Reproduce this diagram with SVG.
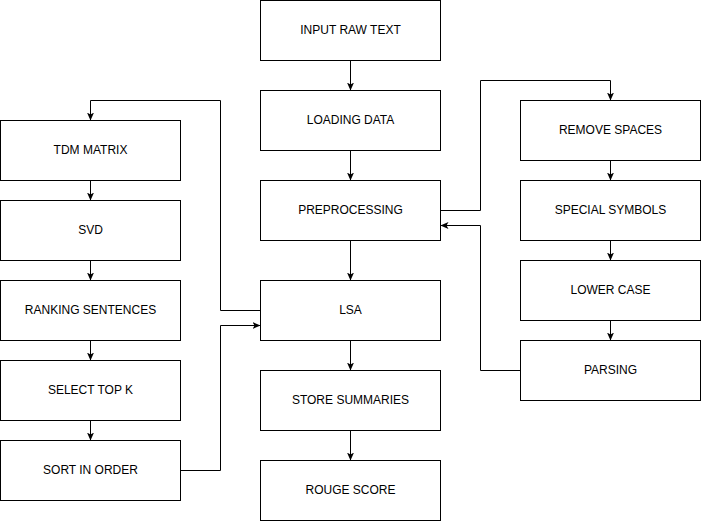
<svg xmlns="http://www.w3.org/2000/svg" width="701" height="521" viewBox="0 0 701 521">
<defs>
<style>
.box{fill:#fff;stroke:#000;stroke-width:1}
.lbl{font-family:"Liberation Sans",Arial,sans-serif;font-size:12px;fill:#000;text-anchor:middle;dominant-baseline:central}
.c{fill:none;stroke:#000;stroke-width:1;marker-end:url(#arr)}
</style>
<marker id="arr" viewBox="0 0 8 7" refX="8" refY="3.5" markerWidth="8" markerHeight="7" markerUnits="userSpaceOnUse" orient="auto">
<path d="M0,0 L8,3.5 L0,7 L2,3.5 z" fill="#000"/>
</marker>
</defs>
<rect width="701" height="521" fill="#fff"/>
<g id="connectors">
<path class="c" d="M350.5,60.5 V90.5"/>
<path class="c" d="M350.5,150.5 V180.5"/>
<path class="c" d="M350.5,240.5 V280.5"/>
<path class="c" d="M350.5,340.5 V370.5"/>
<path class="c" d="M350.5,430.5 V460.5"/>
<path class="c" d="M90.5,180.5 V200.5"/>
<path class="c" d="M90.5,260.5 V280.5"/>
<path class="c" d="M90.5,340.5 V360.5"/>
<path class="c" d="M90.5,420.5 V440.5"/>
<path class="c" d="M610.5,160.5 V180.5"/>
<path class="c" d="M610.5,240.5 V260.5"/>
<path class="c" d="M610.5,320.5 V340.5"/>
<path class="c" d="M260.5,310.5 H220.5 V100.5 H90.5 V120.5"/>
<path class="c" d="M180.5,470.5 H220.5 V325.5 H260.5"/>
<path class="c" d="M440.5,210.5 H480.5 V80.5 H610.5 V100.5"/>
<path class="c" d="M520.5,370.5 H480.5 V225.5 H440.5"/>
</g>
<g id="input"><rect class="box" x="260.5" y="0.5" width="180" height="60"/><text class="lbl" x="350.5" y="29.5">INPUT RAW TEXT</text></g>
<g id="loading"><rect class="box" x="260.5" y="90.5" width="180" height="60"/><text class="lbl" x="350.5" y="119.5">LOADING DATA</text></g>
<g id="preprocessing"><rect class="box" x="260.5" y="180.5" width="180" height="60"/><text class="lbl" x="350.5" y="209.5">PREPROCESSING</text></g>
<g id="lsa"><rect class="box" x="260.5" y="280.5" width="180" height="60"/><text class="lbl" x="350.5" y="309.5">LSA</text></g>
<g id="store"><rect class="box" x="260.5" y="370.5" width="180" height="60"/><text class="lbl" x="350.5" y="399.5">STORE SUMMARIES</text></g>
<g id="rouge"><rect class="box" x="260.5" y="460.5" width="180" height="60"/><text class="lbl" x="350.5" y="489.5">ROUGE SCORE</text></g>
<g id="tdm"><rect class="box" x="0.5" y="120.5" width="180" height="60"/><text class="lbl" x="90.5" y="149.5">TDM MATRIX</text></g>
<g id="svd"><rect class="box" x="0.5" y="200.5" width="180" height="60"/><text class="lbl" x="90.5" y="229.5">SVD</text></g>
<g id="ranking"><rect class="box" x="0.5" y="280.5" width="180" height="60"/><text class="lbl" x="90.5" y="309.5">RANKING SENTENCES</text></g>
<g id="select"><rect class="box" x="0.5" y="360.5" width="180" height="60"/><text class="lbl" x="90.5" y="389.5">SELECT TOP K</text></g>
<g id="sort"><rect class="box" x="0.5" y="440.5" width="180" height="60"/><text class="lbl" x="90.5" y="469.5">SORT IN ORDER</text></g>
<g id="spaces"><rect class="box" x="520.5" y="100.5" width="180" height="60"/><text class="lbl" x="610.5" y="129.5">REMOVE SPACES</text></g>
<g id="symbols"><rect class="box" x="520.5" y="180.5" width="180" height="60"/><text class="lbl" x="610.5" y="209.5">SPECIAL SYMBOLS</text></g>
<g id="lower"><rect class="box" x="520.5" y="260.5" width="180" height="60"/><text class="lbl" x="610.5" y="289.5">LOWER CASE</text></g>
<g id="parsing"><rect class="box" x="520.5" y="340.5" width="180" height="60"/><text class="lbl" x="610.5" y="369.5">PARSING</text></g>
</svg>
